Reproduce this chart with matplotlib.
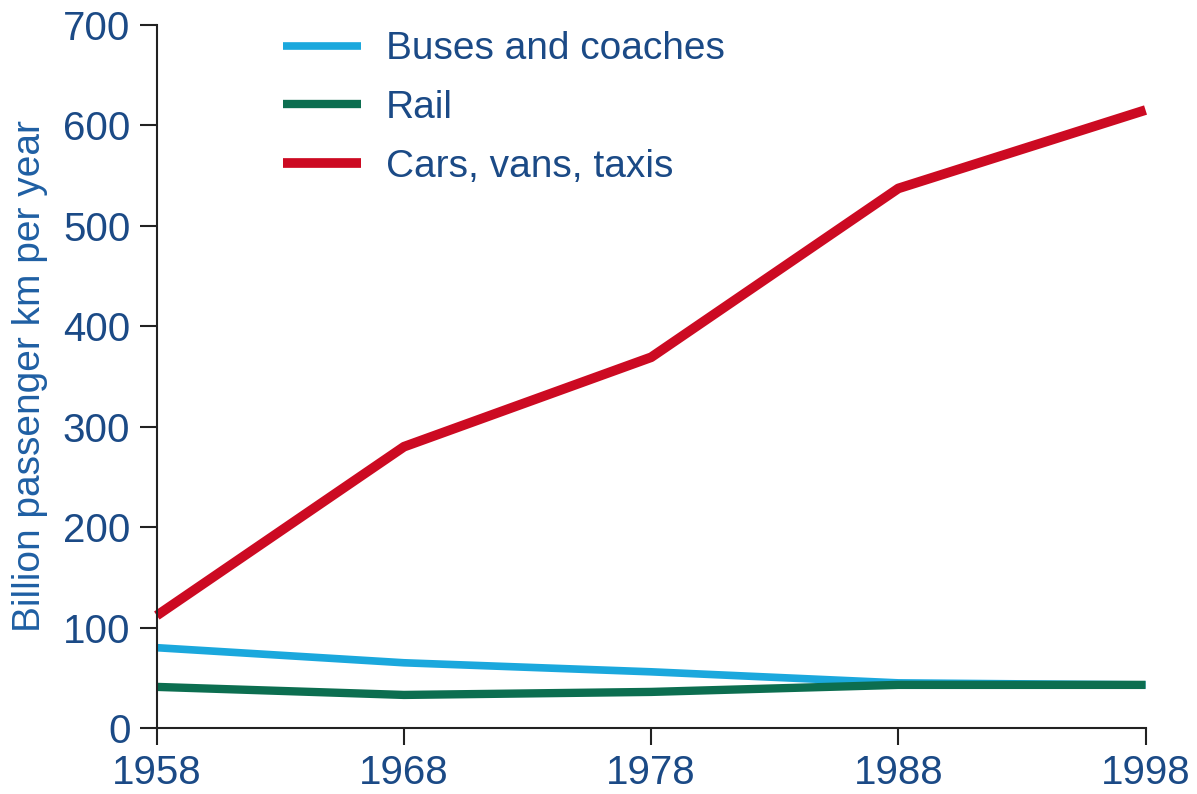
import matplotlib.pyplot as plt

# Data
years = [1958, 1968, 1978, 1988, 1998]
buses = [80, 65, 56, 45, 43]
rail = [41, 33, 36, 43, 43]
cars = [112, 280, 369, 537, 615]

text_col = '#1b4a86'
plt.rcParams['font.family'] = ['Liberation Sans', 'DejaVu Sans']

fig = plt.figure(figsize=(11.97, 7.94), dpi=100)
ax = fig.add_axes([0.131, 0.083, 0.826, 0.886])

ax.plot(years, buses, color='#1ba8dd', lw=5.5, label='Buses and coaches',
        solid_capstyle='butt', clip_on=False)
ax.plot(years, rail, color='#0c6e50', lw=6, label='Rail',
        solid_capstyle='butt', clip_on=False)
ax.plot(years, cars, color='#cc0a22', lw=7, label='Cars, vans, taxis',
        solid_capstyle='butt', clip_on=False)

ax.set_xlim(1958, 1998)
ax.set_ylim(0, 700)
ax.set_xticks(years)
ax.set_yticks(range(0, 701, 100))

for s in ['top', 'right']:
    ax.spines[s].set_visible(False)
for s in ['left', 'bottom']:
    ax.spines[s].set_linewidth(1.5)
    ax.spines[s].set_color('#222222')
ax.tick_params(axis='both', direction='out', length=12, width=1.5,
               color='#222222', labelsize=29, labelcolor=text_col)
ax.tick_params(axis='y', pad=7)
ax.tick_params(axis='x', pad=7)

ax.set_ylabel('Billion passenger km per year', fontsize=28,
              color='#1f5fa3', labelpad=11)

leg = ax.legend(loc='upper left', bbox_to_anchor=(0.092, 1.04), frameon=False,
                fontsize=28, handlelength=2.0, handletextpad=0.65,
                labelspacing=0.58)
for t in leg.get_texts():
    t.set_color(text_col)

fig.savefig('out.png', dpi=100)
